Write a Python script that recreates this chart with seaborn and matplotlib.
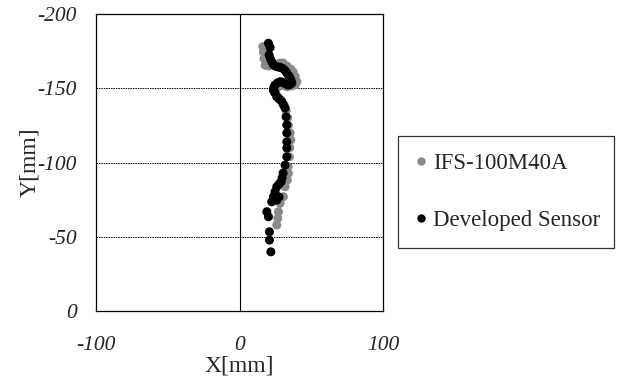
import pandas as pd
import matplotlib
matplotlib.use("Agg")
import matplotlib.pyplot as plt
import seaborn as sns

# IFS-100M40A (reference sensor)
ifs_x = [16.2, 16.6, 17.0, 17.8, 20.0, 24.0, 28.0, 30.3, 33.0, 35.5, 37.3, 38.8, 39.9, 38.7,
         36.0, 33.0, 30.0, 27.0, 25.0, 25.5, 27.0, 29.0, 31.0, 32.5, 33.5, 34.0, 35.2, 35.7,
         35.0, 34.7, 33.8, 34.0, 33.3, 31.7, 30.5, 28.2, 27.1, 26.6, 25.9]
ifs_y = [-178.0, -174.6, -170.0, -165.5, -165.0, -166.0, -167.0, -167.0, -165.0, -163.0, -161.0,
         -158.0, -154.4, -152.2, -151.5, -151.0, -152.0, -151.0, -149.0, -146.0, -144.0, -142.0,
         -139.0, -135.0, -130.0, -125.0, -119.9, -115.2, -110.0, -103.9, -97.2, -92.7, -88.2,
         -83.7, -77.0, -72.5, -66.9, -62.4, -57.9]

# Developed Sensor
dev_x = [20.1, 21.3, 20.6, 21.5, 22.4, 23.6, 25.2, 26.8, 28.5, 30.3, 31.8, 32.9, 34.2, 35.2,
         36.0, 36.4, 35.2, 33.8, 32.4, 31.0, 29.6, 28.2, 26.4, 24.7, 23.8, 23.6, 24.2, 24.7,
         25.9, 27.5, 29.4, 30.6, 31.7, 32.4, 32.9, 32.9, 32.9, 32.9, 32.9, 31.7, 30.3, 29.6,
         29.0, 27.5, 25.9, 24.7, 23.6, 22.4, 25.9, 27.5, 19.0, 20.1, 20.8, 20.8, 21.8]
dev_y = [-180.3, -177.5, -172.4, -169.8, -167.9, -165.7, -164.8, -164.3, -164.0, -163.2, -161.8,
         -160.3, -158.5, -156.9, -155.0, -153.5, -152.6, -152.2, -152.8, -153.5, -154.2, -154.4,
         -153.6, -152.2, -150.5, -148.8, -147.6, -146.8, -144.3, -142.8, -141.0, -138.8, -136.7,
         -130.8, -125.3, -119.9, -114.0, -109.8, -103.9, -98.3, -92.9, -89.6, -87.1, -85.5, -83.7,
         -80.3, -77.0, -73.6, -74.7, -76.8, -66.9, -63.5, -53.4, -47.8, -39.9]

df = pd.concat([
    pd.DataFrame({"x": ifs_x, "y": ifs_y, "sensor": "IFS-100M40A"}),
    pd.DataFrame({"x": dev_x, "y": dev_y, "sensor": "Developed Sensor"}),
], ignore_index=True)

sns.set_style("white")
plt.rcParams["font.family"] = ["Liberation Serif", "DejaVu Serif"]

fig = plt.figure(figsize=(6.19, 3.78), dpi=100)
ax = fig.add_axes([0.155, 0.177, 0.464, 0.786])

sns.scatterplot(data=df, x="x", y="y", hue="sensor",
                palette={"IFS-100M40A": "#8a8a8a", "Developed Sensor": "#000000"},
                s=42, linewidth=0, ax=ax, legend=False)

ax.set_xlim(-100, 100)
ax.set_ylim(0, -200)
ax.set_xticks([-100, 0, 100])
ax.set_yticks([0, -50, -100, -150, -200])
ax.set_xticklabels(["-100", "0", "100"], fontstyle="italic", fontsize=15.5)
ax.set_yticklabels(["0", "-50", "-100", "-150", "-200"], fontstyle="italic", fontsize=15.5)
ax.tick_params(axis="x", length=0, pad=18)
ax.tick_params(axis="y", length=0, pad=14)

for yv in [-50, -100, -150]:
    ax.axhline(yv, color="black", lw=0.7, ls=(0, (1.5, 1)), zorder=0)
ax.axvline(0, color="black", lw=0.8, zorder=0)

for sp in ax.spines.values():
    sp.set_color("black")
    sp.set_linewidth(0.9)

ax.set_xlabel("X[mm]", fontsize=17, labelpad=0)
ax.set_ylabel("Y[mm]", fontsize=17, labelpad=-2)

handles = [
    plt.Line2D([], [], marker="o", ls="", color="#8a8a8a", markersize=5),
    plt.Line2D([], [], marker="o", ls="", color="#000000", markersize=5),
]
leg = fig.legend(handles, ["IFS-100M40A", "Developed Sensor"],
                 loc="upper left", bbox_to_anchor=(0.643, 0.352, 0.349, 0.288),
                 mode="expand", fontsize=16.5,
                 frameon=True, fancybox=False, labelspacing=1.6, handlelength=0.6,
                 handletextpad=0.2, borderpad=0.72, borderaxespad=0)
leg.get_frame().set_edgecolor("black")
leg.get_frame().set_linewidth(0.9)

fig.savefig("out.png", dpi=100)
